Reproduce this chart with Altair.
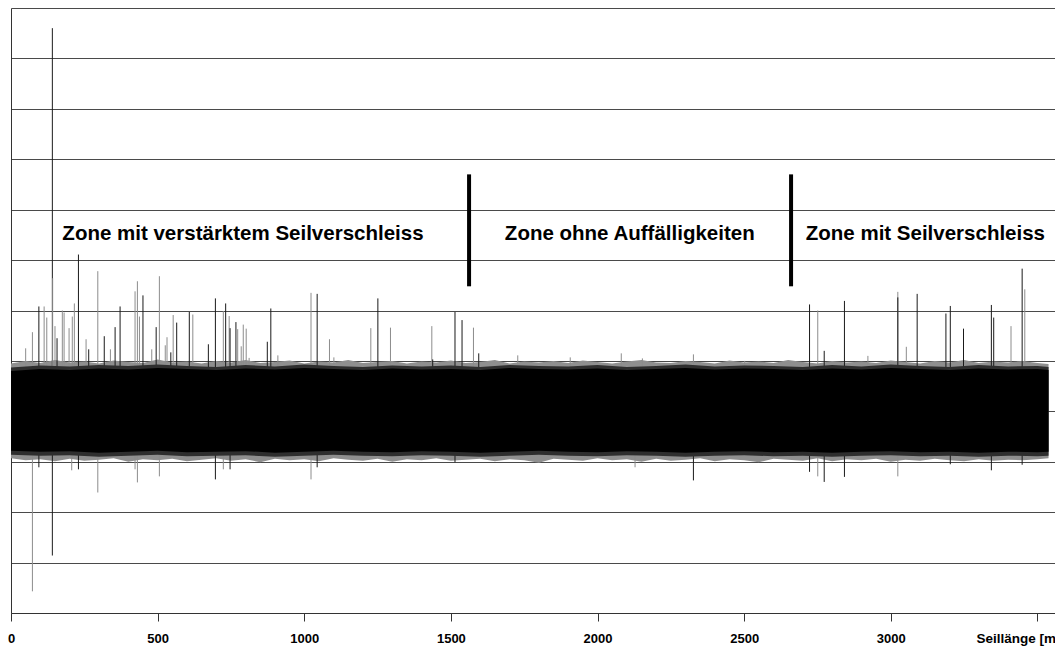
import altair as alt
import pandas as pd

# ---- noise band envelope: solid core and darker fringe (read every 100 m) ----
band_x = [0, 100, 200, 300, 400, 500, 600, 700, 800, 900, 1000, 1100, 1200, 1300, 1400, 1500,
          1600, 1700, 1800, 1900, 2000, 2100, 2200, 2300, 2400, 2500, 2600, 2700, 2800, 2900,
          3000, 3100, 3200, 3300, 3400, 3500, 3538]
band_top = [0.80, 0.84, 0.82, 0.85, 0.83, 0.86, 0.84, 0.82, 0.85, 0.83, 0.86, 0.84, 0.82, 0.85,
            0.83, 0.84, 0.82, 0.86, 0.84, 0.83, 0.85, 0.82, 0.84, 0.86, 0.83, 0.85, 0.84, 0.82,
            0.85, 0.83, 0.86, 0.84, 0.82, 0.85, 0.83, 0.84, 0.82]
band_bot = [-0.78, -0.80, -0.79, -0.82, -0.80, -0.78, -0.81, -0.80, -0.79, -0.82, -0.80, -0.78,
            -0.80, -0.81, -0.79, -0.80, -0.82, -0.80, -0.78, -0.80, -0.81, -0.79, -0.80, -0.82,
            -0.80, -0.79, -0.81, -0.80, -0.82, -0.80, -0.79, -0.81, -0.80, -0.82, -0.80, -0.81,
            -0.80]
mid_top = [0.87, 0.91, 0.89, 0.92, 0.90, 0.93, 0.90, 0.88, 0.92, 0.89, 0.93, 0.90, 0.88, 0.91,
           0.89, 0.91, 0.88, 0.92, 0.90, 0.89, 0.92, 0.88, 0.90, 0.93, 0.89, 0.91, 0.90, 0.88,
           0.92, 0.89, 0.93, 0.90, 0.88, 0.92, 0.89, 0.90, 0.88]
mid_bot = [-0.86, -0.88, -0.87, -0.90, -0.88, -0.86, -0.89, -0.88, -0.87, -0.90, -0.88, -0.86,
           -0.88, -0.89, -0.87, -0.88, -0.90, -0.88, -0.86, -0.88, -0.89, -0.87, -0.88, -0.90,
           -0.88, -0.87, -0.89, -0.88, -0.90, -0.88, -0.87, -0.89, -0.88, -0.90, -0.88, -0.89,
           -0.88]

# ---- outer grey fringe tips (read every 50 m) ----
outer_x = [0, 50, 100, 150, 200, 250, 300, 350, 400, 450, 500, 550, 600, 650, 700, 750, 800, 850,
           900, 950, 1000, 1050, 1100, 1150, 1200, 1250, 1300, 1350, 1400, 1450, 1500, 1550, 1600,
           1650, 1700, 1750, 1800, 1850, 1900, 1950, 2000, 2050, 2100, 2150, 2200, 2250, 2300,
           2350, 2400, 2450, 2500, 2550, 2600, 2650, 2700, 2750, 2800, 2850, 2900, 2950, 3000,
           3050, 3100, 3150, 3200, 3250, 3300, 3350, 3400, 3450, 3500, 3538]
outer_top = [0.95, 1.00, 0.96, 1.02, 0.97, 0.99, 0.95, 1.01, 0.98, 0.96,
             1.03, 0.97, 0.99, 0.95, 1.00, 0.97, 1.02, 0.96, 0.98, 1.01,
             0.95, 0.99, 0.97, 1.02, 0.96, 0.98, 1.00, 0.95, 0.99, 0.97,
             1.01, 0.96, 0.98, 1.02, 0.95, 0.99, 0.97, 1.00, 0.96, 1.01,
             0.98, 0.95, 0.99, 1.02, 0.97, 0.96, 1.00, 0.98, 0.95, 1.01,
             0.97, 0.99, 0.96, 1.02, 0.98, 0.95, 1.00, 0.97, 0.99, 0.96,
             1.01, 0.98, 0.95, 1.00, 0.97, 1.02, 0.96, 0.99, 0.97, 1.00,
             0.96, 0.94]
outer_bot = [-0.93, -0.97, -0.95, -0.99, -0.94, -0.98, -0.96, -0.93, -1.00, -0.95,
             -0.97, -0.94, -0.99, -0.96, -0.93, -0.98, -0.95, -1.01, -0.94, -0.97,
             -0.95, -0.99, -0.93, -0.96, -0.98, -0.94, -1.00, -0.95, -0.97, -0.93,
             -0.98, -0.96, -0.94, -0.99, -0.95, -0.97, -1.02, -0.94, -0.96, -0.98,
             -0.93, -0.97, -0.95, -1.00, -0.94, -0.98, -0.96, -0.93, -0.99, -0.95,
             -0.97, -1.01, -0.94, -0.96, -0.98, -0.93, -0.99, -0.95, -0.97, -0.94,
             -1.00, -0.96, -0.98, -0.94, -0.97, -0.99, -0.95, -0.98, -0.96, -0.97,
             -0.95, -0.93]

# ---- spikes (x in m, peak value, shade d=dark g=grey) ----
up_x = [50, 73, 95, 113, 122, 141, 142, 150, 157, 175, 181, 198, 209, 216, 230, 256, 265, 296, 318,
        339, 355, 372, 423, 431, 438, 450, 480, 495, 506, 526, 532, 545, 553, 565, 608, 620, 673,
        697, 724, 732, 744, 747, 767, 773, 785, 792, 802, 812, 874, 886, 910, 1023, 1044, 1086,
        1101, 1227, 1251, 1294, 1435, 1438, 1514, 1538, 1577, 1595, 1728, 1907, 2081, 2153, 2327,
        2502, 2723, 2751, 2773, 2842, 2922, 3024, 3024, 3053, 3090, 3188, 3203, 3248, 3343, 3351,
        3410, 3448, 3457]
up_v = [1.25, 1.57, 2.08, 2.08, 1.86, 7.6, 2.64, 1.69, 1.45, 2.0, 1.96, 1.65, 1.88, 2.14, 3.11, 1.43,
        1.23, 2.78, 1.49, 1.23, 1.67, 2.08, 2.38, 2.58, 1.88, 2.30, 1.23, 1.67, 2.68, 1.31, 1.47,
        1.17, 1.91, 1.76, 1.97, 1.92, 1.33, 2.24, 1.99, 2.14, 1.89, 1.65, 1.77, 1.63, 1.29, 1.72,
        1.64, 1.06, 1.38, 2.04, 1.11, 2.35, 2.33, 1.43, 1.07, 1.65, 2.24, 1.66, 1.69, 1.03, 1.97,
        1.81, 1.66, 1.15, 1.11, 1.07, 1.15, 1.05, 1.13, 1.0, 2.12, 2.0, 1.2, 2.19, 1.1, 2.37, 2.26,
        1.28, 2.33, 1.94, 2.09, 1.64, 2.11, 1.86, 1.69, 2.83, 2.42]
up_s = ["g", "g", "d", "g", "g", "d", "g", "g", "d", "g", "g", "g", "g", "g", "d", "g", "d", "g", "d",
        "g", "d", "d", "g", "g", "g", "d", "g", "d", "g", "g", "g", "d", "g", "d", "d", "g", "d",
        "d", "g", "d", "g", "d", "d", "g", "g", "g", "g", "g", "d", "d", "g", "g", "d", "g",
        "g", "g", "d", "g", "g", "d", "d", "d", "g", "d", "g", "g", "g", "g", "g",
        "g", "d", "g", "d", "d", "g", "g", "d", "g", "d", "d", "d", "d", "d", "d",
        "g", "d", "g"]

down_x = [73, 95, 141, 207, 230, 296, 423, 431, 506, 697, 724, 747, 1023, 1044, 1514, 2128, 2327,
          2723, 2751, 2773, 2842, 3024, 3203, 3343, 3448]
down_v = [-3.57, -1.11, -2.86, -1.17, -1.15, -1.61, -1.15, -1.41, -1.29, -1.35, -1.15, -1.15, -1.35,
          -1.11, -1.01, -1.11, -1.37, -1.2, -1.29, -1.40, -1.30, -1.29, -1.05, -1.17, -1.06]
down_s = ["g", "d", "d", "g", "d", "g", "g", "g", "g", "d", "g", "d", "g", "d", "d", "g", "d",
          "d", "g", "d", "d", "g", "d", "d", "d"]

# ---- zone separators and labels ----
sep_x = [1562, 2660]
sep_lo = [2.48, 2.48]
sep_hi = [4.70, 4.70]
zone_x = [791, 2110, 3118]
zone_y = [3.39, 3.39, 3.39]
zone_text = ["Zone mit verstärktem Seilverschleiss", "Zone ohne Auffälligkeiten",
             "Zone mit Seilverschleiss"]

x_ticks = [0, 500, 1000, 1500, 2000, 2500, 3000, 3500]
y_grid = [-4, -3, -2, -1, 0, 1, 2, 3, 4, 5, 6, 7, 8]

band = pd.DataFrame({"x": band_x, "bt": band_top, "bb": band_bot,
                     "mt": mid_top, "mb": mid_bot})
outer = pd.DataFrame({"x": outer_x, "ot": outer_top, "ob": outer_bot})
spikes = pd.DataFrame({"x": up_x + down_x, "v": up_v + down_v, "s": up_s + down_s})
seps = pd.DataFrame({"x": sep_x, "lo": sep_lo, "hi": sep_hi})
zones = pd.DataFrame({"x": zone_x, "y": zone_y, "t": zone_text})

xs = alt.Scale(domain=[0, 3560], nice=False, zero=False)
ys = alt.Scale(domain=[-4, 8], nice=False, zero=False)

x_axis = alt.Axis(values=x_ticks, format="d",
                  labelExpr="datum.value == 3500 ? '' : datum.label",
                  labelFont="Liberation Sans", labelFontWeight="bold", labelFontSize=13,
                  labelColor="black", labelPadding=11, labelFlush=False,
                  tickSize=8, tickColor="#333333", domainColor="#333333", grid=False,
                  title="Seillänge [m]", titleX=965, titleY=29, titleAlign="left",
                  titleBaseline="alphabetic", titleFont="Liberation Sans",
                  titleFontWeight="bold", titleFontSize=13.5, titleColor="black")
y_axis = alt.Axis(values=y_grid, labels=False, ticks=False, grid=True, gridColor="#4a4a4a",
                  gridWidth=1, domainColor="#333333", title=None)

outer_layer = alt.Chart(outer).mark_area(color="#8f8f8f").encode(
    x=alt.X("x:Q", scale=xs, axis=x_axis),
    y=alt.Y("ot:Q", scale=ys, axis=y_axis),
    y2="ob:Q",
)

spk = alt.Chart(spikes).mark_rule(strokeWidth=1).encode(
    x=alt.X("x:Q", scale=xs),
    y=alt.Y("v:Q", scale=ys),
    y2=alt.datum(0),
    color=alt.Color("s:N", scale=alt.Scale(domain=["d", "g"], range=["#1a1a1a", "#8c8c8c"]),
                    legend=None),
)

mid = alt.Chart(band).mark_area(color="#2e2e2e").encode(
    x=alt.X("x:Q", scale=xs),
    y=alt.Y("mt:Q", scale=ys),
    y2="mb:Q",
)

core = alt.Chart(band).mark_area(color="black").encode(
    x=alt.X("x:Q", scale=xs),
    y=alt.Y("bt:Q", scale=ys),
    y2="bb:Q",
)

sep = alt.Chart(seps).mark_rule(strokeWidth=4, color="black").encode(
    x=alt.X("x:Q", scale=xs),
    y=alt.Y("lo:Q", scale=ys),
    y2="hi:Q",
)

txt = alt.Chart(zones).mark_text(font="Liberation Sans", fontWeight="bold", fontSize=20.5,
                                 baseline="alphabetic", align="center", color="black").encode(
    x=alt.X("x:Q", scale=xs),
    y=alt.Y("y:Q", scale=ys),
    text="t:N",
)

chart = alt.layer(outer_layer, spk, mid, core, sep, txt).properties(
    width=1044, height=605,
    padding={"left": 11, "top": 8, "right": 0, "bottom": 33},
    autosize=alt.AutoSizeParams(type="none"),
    background="white",
).configure_view(stroke=None)

chart.save("out.html", embed_options={"renderer": "svg", "actions": False})
